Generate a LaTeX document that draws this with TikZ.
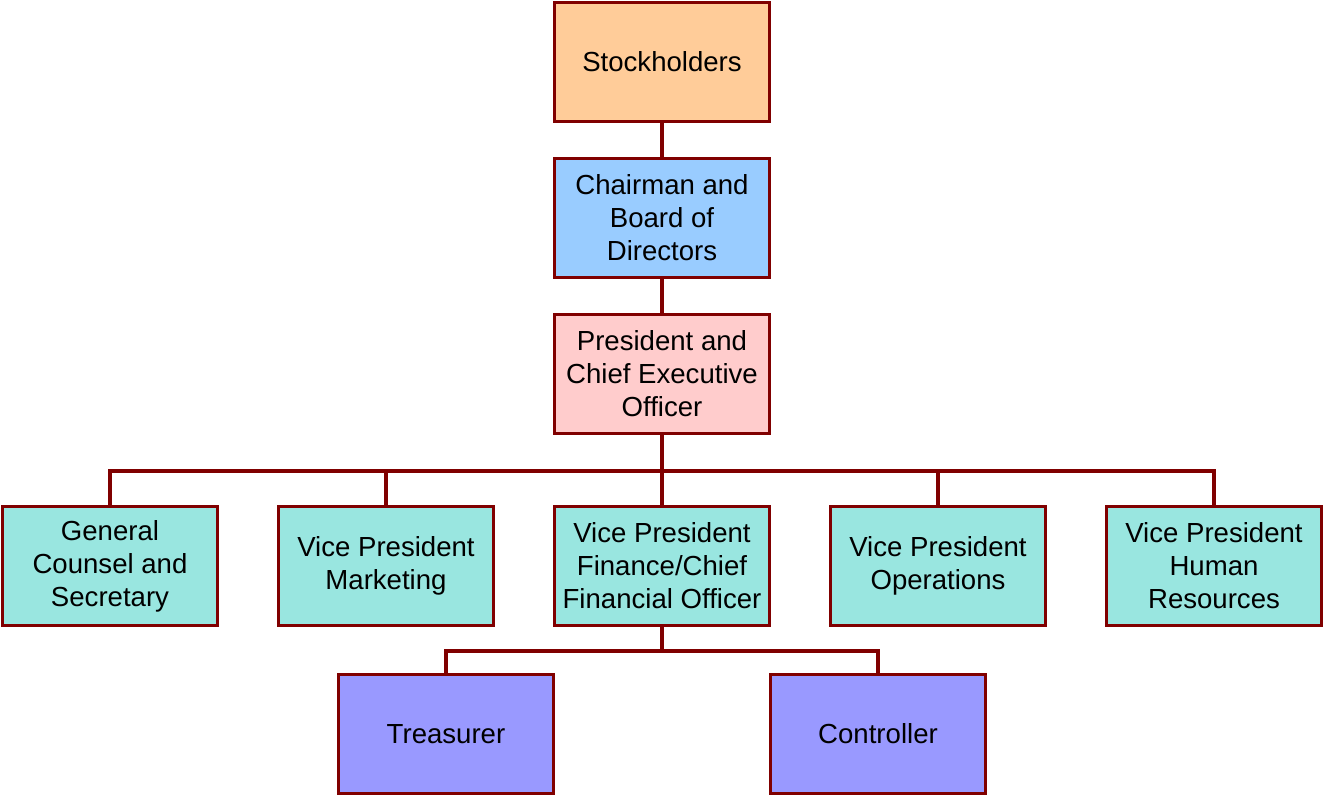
\documentclass[tikz,border=0pt]{standalone}
\usepackage{fontspec}
\setmainfont{Liberation Sans}
\definecolor{linkred}{RGB}{128,0,0}
\definecolor{stockfill}{RGB}{255,204,153}
\definecolor{boardfill}{RGB}{153,204,255}
\definecolor{presfill}{RGB}{255,204,204}
\definecolor{vpfill}{RGB}{153,230,224}
\definecolor{finfill}{RGB}{153,153,255}
\begin{document}
\begin{tikzpicture}[x=0.02cm, y=-0.02cm,
	box/.style={draw=linkred, line width=1.3pt, minimum width=4.3cm, minimum height=2.38cm,
		align=center, inner sep=0pt, font=\fontsize{15.7}{18.8}\selectfont},
	link/.style={draw=linkred, line width=2.2pt}]
	\useasboundingbox (0, 0) rectangle (1324, 796);
	% top of the chart
	\node[box, fill=stockfill] (stock) at (662, 62) {Stockholders};
	\node[box, fill=boardfill] (board) at (662, 218) {Chairman and\\Board of\\ Directors};
	\node[box, fill=presfill] (pres) at (662, 374) {President and\\Chief Executive\\Officer};
	% officers
	\node[box, fill=vpfill] (counsel) at (110, 566) {General\\Counsel and\\Secretary};
	\node[box, fill=vpfill] (mkt) at (386, 566) {Vice President\\Marketing};
	\node[box, fill=vpfill] (cfo) at (662, 566) {Vice President\\Finance/Chief\\Financial Officer};
	\node[box, fill=vpfill] (ops) at (938, 566) {Vice President\\Operations};
	\node[box, fill=vpfill] (hr) at (1214, 566) {Vice President\\Human\\Resources};
	% finance
	\node[box, fill=finfill] (treas) at (446, 734) {Treasurer};
	\node[box, fill=finfill] (ctrl) at (878, 734) {Controller};
	\draw[link] (stock) -- (board);
	\draw[link] (board) -- (pres);
	\foreach \n in {counsel, mkt, cfo, ops, hr}{
		\draw[link] (pres.south) -- ++(0, 36) -| (\n.north);
	}
	\foreach \n in {treas, ctrl}{
		\draw[link] (cfo.south) -- ++(0, 24) -| (\n.north);
	}
\end{tikzpicture}
\end{document}
